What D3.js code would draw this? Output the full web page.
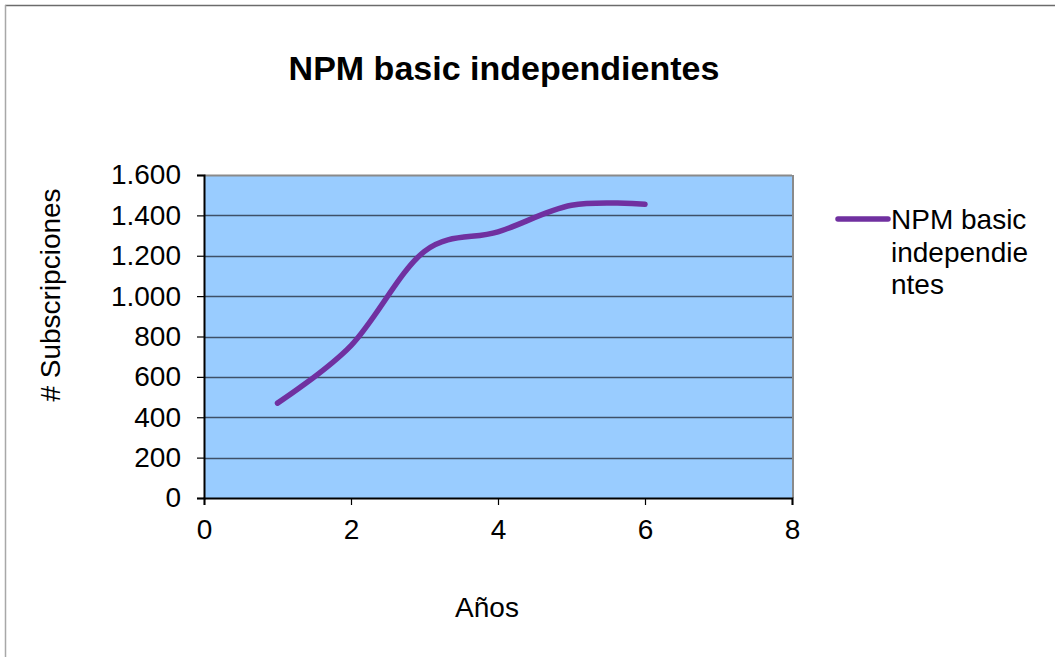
<!DOCTYPE html>
<html>
<head>
<meta charset="utf-8">
<script src="https://cdn.jsdelivr.net/npm/d3@7"></script>
<style>
  html, body { margin: 0; padding: 0; background: #fff; }
  svg { display: block; font-family: "Liberation Sans", Arial, sans-serif; }
</style>
</head>
<body>
<svg id="chart" width="1055" height="657"></svg>
<script>
// Subscriptions per year
const years = [1, 2, 3, 4, 5, 6];
const subscriptions = [470, 755, 1222, 1318, 1450, 1455];
const seriesName = "NPM basic independientes";
const legendLines = ["NPM basic", "independie", "ntes"];
const xTicks = [0, 2, 4, 6, 8];
const yTicks = [0, 200, 400, 600, 800, 1000, 1200, 1400, 1600];
const yTickLabels = ["0", "200", "400", "600", "800", "1.000", "1.200", "1.400", "1.600"];

const svg = d3.select("#chart");
const W = 1055, H = 657;
const plot = { left: 204, top: 175, right: 792, bottom: 498 };
const FS = 28;

// outer chart frame
svg.append("line").attr("x1", 5).attr("y1", 5.5).attr("x2", W).attr("y2", 5.5)
  .attr("stroke", "#6b6b6b").attr("stroke-width", 1.5);
svg.append("line").attr("x1", 5.5).attr("y1", 5).attr("x2", 5.5).attr("y2", H)
  .attr("stroke", "#a8a8a8").attr("stroke-width", 1.5);

const x = d3.scaleLinear().domain([0, 8]).range([plot.left, plot.right]);
const y = d3.scaleLinear().domain([0, 1600]).range([plot.bottom, plot.top]);

// plot background
svg.append("rect")
  .attr("x", plot.left).attr("y", plot.top)
  .attr("width", plot.right - plot.left).attr("height", plot.bottom - plot.top)
  .attr("fill", "#99ccff");

// horizontal gridlines
svg.append("g").selectAll("line").data(yTicks.filter(d => d > 0)).join("line")
  .attr("x1", plot.left).attr("x2", plot.right)
  .attr("y1", d => Math.round(y(d)) + 0.5).attr("y2", d => Math.round(y(d)) + 0.5)
  .attr("stroke", d => d === 1600 ? "#8a8a8a" : "#3e5068")
  .attr("stroke-width", d => d === 1600 ? 2 : 1.4);

// right border of plot area
svg.append("line").attr("x1", plot.right + 1).attr("x2", plot.right + 1)
  .attr("y1", plot.top).attr("y2", plot.bottom)
  .attr("stroke", "#8a8a8a").attr("stroke-width", 2);

// y axis
const yAxis = d3.axisLeft(y).tickValues(yTicks)
  .tickFormat((d, i) => yTickLabels[i]).tickSize(7).tickPadding(16);
const gy = svg.append("g").attr("transform", `translate(${plot.left},0)`).call(yAxis);
gy.select(".domain").attr("stroke", "#000").attr("stroke-width", 2);
gy.selectAll(".tick line").attr("stroke", "#000").attr("stroke-width", 1.2);
gy.selectAll(".tick text").attr("font-size", FS).attr("fill", "#000")
  .attr("font-family", "Liberation Sans, Arial, sans-serif");

// x axis
const xAxis = d3.axisBottom(x).tickValues(xTicks).tickSize(7).tickPadding(14);
const gx = svg.append("g").attr("transform", `translate(0,${plot.bottom})`).call(xAxis);
gx.select(".domain").attr("stroke", "#000").attr("stroke-width", 2);
gx.selectAll(".tick line").attr("stroke", "#000").attr("stroke-width", 1.2);
gx.selectAll(".tick text").attr("font-size", FS).attr("fill", "#000")
  .attr("font-family", "Liberation Sans, Arial, sans-serif");

// smoothed series line
const line = d3.line()
  .x((d, i) => x(years[i]))
  .y(d => y(d))
  .curve(d3.curveCatmullRom.alpha(0));
svg.append("path").datum(subscriptions)
  .attr("d", line)
  .attr("fill", "none")
  .attr("stroke", "#7030a0")
  .attr("stroke-width", 5.5)
  .attr("stroke-linecap", "round")
  .attr("stroke-linejoin", "round");

// title
svg.append("text").attr("x", 504).attr("y", 80)
  .attr("text-anchor", "middle").attr("font-size", 34).attr("font-weight", "bold")
  .text(seriesName);

// axis titles
svg.append("text").attr("x", 487).attr("y", 617)
  .attr("text-anchor", "middle").attr("font-size", FS).text("Años");
svg.append("text")
  .attr("transform", "translate(60,295) rotate(-90)")
  .attr("text-anchor", "middle").attr("font-size", FS).text("# Subscripciones");

// legend
svg.append("line").attr("x1", 838).attr("x2", 888).attr("y1", 219).attr("y2", 219)
  .attr("stroke", "#7030a0").attr("stroke-width", 5.5).attr("stroke-linecap", "round");
svg.append("g").selectAll("text").data(legendLines).join("text")
  .attr("x", 891).attr("y", (d, i) => 229 + i * 32.5)
  .attr("font-size", FS).text(d => d);
</script>
</body>
</html>
